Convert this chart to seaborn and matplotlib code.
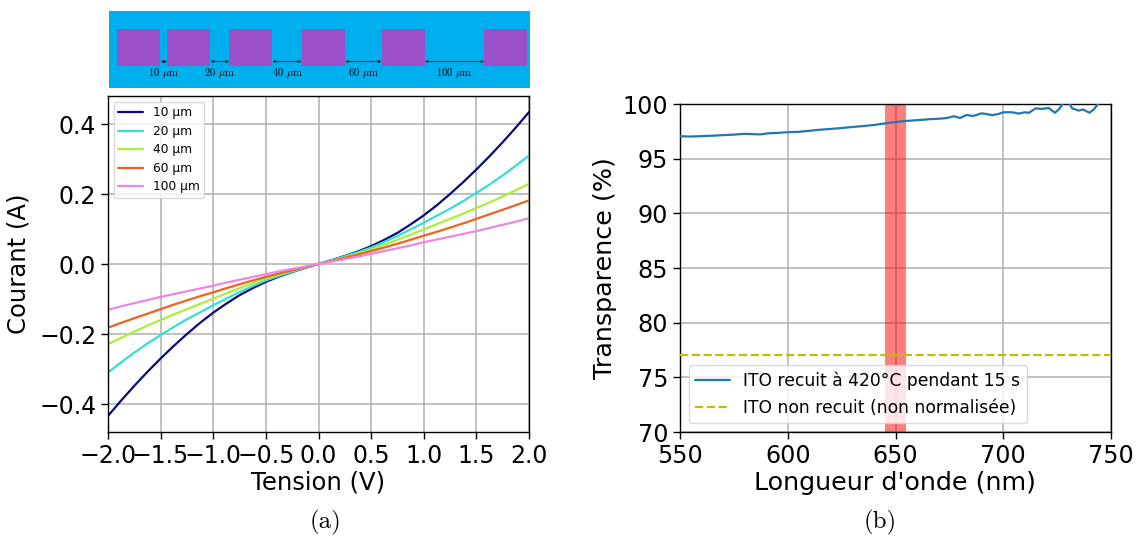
import numpy as np
import pandas as pd
import matplotlib
matplotlib.use("Agg")
import matplotlib.pyplot as plt
import seaborn as sns
from matplotlib.patches import Rectangle

# ---------------- data ----------------
voltage = [-2.0, -1.875, -1.75, -1.625, -1.5, -1.375, -1.25, -1.125, -1.0,
           -0.875, -0.75, -0.625, -0.5, -0.375, -0.25, -0.125, 0.0,
           0.125, 0.25, 0.375, 0.5, 0.625, 0.75, 0.875, 1.0,
           1.125, 1.25, 1.375, 1.5, 1.625, 1.75, 1.875, 2.0]
i_10 = [-0.434, -0.390, -0.348, -0.308, -0.270, -0.234, -0.200, -0.168, -0.139,
        -0.113, -0.089, -0.069, -0.051, -0.036, -0.023, -0.011, 0.0,
        0.011, 0.023, 0.036, 0.051, 0.069, 0.089, 0.113, 0.139,
        0.168, 0.200, 0.234, 0.270, 0.308, 0.348, 0.390, 0.434]
i_20 = [-0.310, -0.281, -0.253, -0.227, -0.203, -0.180, -0.158, -0.138, -0.118,
        -0.099, -0.080, -0.063, -0.047, -0.034, -0.022, -0.011, 0.0,
        0.011, 0.022, 0.034, 0.047, 0.063, 0.080, 0.099, 0.118,
        0.138, 0.158, 0.180, 0.203, 0.227, 0.253, 0.281, 0.310]
i_40 = [-0.229, -0.211, -0.193, -0.176, -0.160, -0.144, -0.129, -0.114, -0.099,
        -0.084, -0.069, -0.055, -0.041, -0.030, -0.019, -0.009, 0.0,
        0.009, 0.019, 0.030, 0.041, 0.055, 0.069, 0.084, 0.099,
        0.114, 0.129, 0.144, 0.160, 0.176, 0.193, 0.211, 0.229]
i_60 = [-0.182, -0.168, -0.155, -0.142, -0.129, -0.116, -0.104, -0.092, -0.081,
        -0.069, -0.058, -0.047, -0.037, -0.027, -0.018, -0.009, 0.0,
        0.009, 0.018, 0.027, 0.037, 0.047, 0.058, 0.069, 0.081,
        0.092, 0.104, 0.116, 0.129, 0.142, 0.155, 0.168, 0.182]
i_100 = [-0.131, -0.121, -0.112, -0.103, -0.094, -0.086, -0.078, -0.070, -0.062,
         -0.053, -0.045, -0.037, -0.029, -0.021, -0.014, -0.007, 0.0,
         0.007, 0.014, 0.021, 0.029, 0.037, 0.045, 0.053, 0.062,
         0.070, 0.078, 0.086, 0.094, 0.103, 0.112, 0.121, 0.131]
gap_labels = ["10 µm", "20 µm", "40 µm", "60 µm", "100 µm"]
gap_values = [10, 20, 40, 60, 100]
curve_colors = ["#0a0a7a", "#33e0d2", "#a8f03a", "#f2601e", "#ea86e6"]

wavelength = [550, 555, 560, 565, 570, 575, 580, 583, 587, 591, 595, 600, 605,
              610, 615, 620, 625, 630, 635, 640, 645, 650, 655, 660, 665, 670,
              674, 677, 680, 683, 686, 690, 693, 695, 698, 700, 703, 705, 707,
              710, 712, 715, 718, 721, 724, 726, 728, 730, 732, 735, 737, 740,
              742, 744, 746, 748]
transparence = [97.05, 97.02, 97.06, 97.10, 97.15, 97.20, 97.27, 97.25, 97.22,
                97.32, 97.35, 97.42, 97.45, 97.55, 97.65, 97.72, 97.80, 97.90,
                97.98, 98.08, 98.22, 98.35, 98.45, 98.52, 98.60, 98.65, 98.72,
                98.88, 98.72, 99.00, 98.90, 99.15, 99.05, 98.98, 99.10, 99.24,
                99.25, 99.22, 99.12, 99.24, 99.20, 99.60, 99.55, 99.64, 99.20,
                99.55, 100.15, 100.30, 99.60, 99.40, 99.50, 99.20, 99.50, 100.0,
                100.4, 100.9]
non_recuit = 77.0
band = (645, 655)
label_recuit = "ITO recuit à 420°C pendant 15 s"
label_non = "ITO non recuit (non normalisée)"

# ---------------- style ----------------
sns.set_style("ticks", {"axes.grid": True, "grid.color": "#b0b0b0",
                        "axes.edgecolor": "black", "xtick.color": "black",
                        "ytick.color": "black", "axes.labelcolor": "black",
                        "text.color": "black"})
plt.rcParams["font.family"] = ["DejaVu Sans"]
plt.rcParams["mathtext.fontset"] = "cm"
plt.rcParams["axes.linewidth"] = 1.0

fig = plt.figure(figsize=(11.38, 5.40), dpi=100)

# ---------------- panel (a) ----------------
ax1 = fig.add_axes([108/1138, 108/540, 421/1138, 336/540])
rows = []
for lab, arr in zip(gap_labels, [i_10, i_20, i_40, i_60, i_100]):
    for v, c in zip(voltage, arr):
        rows.append({"Tension": v, "Courant": c, "Gap": lab})
df = pd.DataFrame(rows)
sns.lineplot(data=df, x="Tension", y="Courant", hue="Gap", hue_order=gap_labels,
             palette=curve_colors, linewidth=1.6, ax=ax1)
ax1.set_xlim(-2.0, 2.0)
ax1.set_ylim(-0.48, 0.48)
ax1.set_xticks(np.arange(-2.0, 2.01, 0.5))
ax1.set_yticks([-0.4, -0.2, 0.0, 0.2, 0.4])
ax1.set_xlabel("Tension (V)", fontsize=17.5, labelpad=2)
ax1.set_ylabel("Courant (A)", fontsize=17.5, labelpad=6)
ax1.tick_params(labelsize=17, length=5, width=1)
ax1.grid(True, color="#b0b0b0", linewidth=1.1)
h, l = ax1.get_legend_handles_labels()
ax1.legend(h, l, loc="upper left", fontsize=8.8, frameon=True, framealpha=0.8,
           edgecolor="#d0d0d0", handlelength=2.0, labelspacing=0.45,
           borderaxespad=0.45)

# ---------------- panel (b) ----------------
ax2 = fig.add_axes([680/1138, 108/540, 431/1138, 328/540])
ax2.axvspan(band[0], band[1], color="red", alpha=0.5, lw=0, zorder=1)
sns.lineplot(x=wavelength, y=transparence, color="#1f77b4", linewidth=1.6,
             label=label_recuit, ax=ax2, zorder=3)
ax2.axhline(non_recuit, color="#bfbf00", linestyle="--", linewidth=1.6,
            label=label_non, zorder=3)
ax2.set_xlim(550, 750)
ax2.set_ylim(70, 100)
ax2.set_xticks([550, 600, 650, 700, 750])
ax2.set_yticks([70, 75, 80, 85, 90, 95, 100])
ax2.set_xlabel("Longueur d'onde (nm)", fontsize=18.3, labelpad=2)
ax2.set_ylabel("Transparence (%)", fontsize=18.3, labelpad=4)
ax2.tick_params(labelsize=17.2, length=5, width=1)
ax2.grid(True, color="#b0b0b0", linewidth=1.1)
ax2.legend(loc="lower left", fontsize=12.3, frameon=True, framealpha=0.8,
           edgecolor="#d0d0d0", handlelength=2.0)

# ---------------- illustration above (a) ----------------
axi = fig.add_axes([109/1138, (540-88)/540, 421/1138, 77/540])
axi.set_xlim(0, 421)
axi.set_ylim(77, 0)
axi.axis("off")
axi.add_patch(Rectangle((0, 0), 421, 77, color="#00b0ee", lw=0))
sq_w, sq_top, sq_h = 43, 18, 36.7
sq_x = [8.3, 58.3, 120.3, 193.0, 272.7, 375.3]
for x0 in sq_x:
    axi.add_patch(Rectangle((x0, sq_top), sq_w, sq_h, color="#9a50c8", lw=0))
for k, g in enumerate(gap_values):
    xa = sq_x[k] + sq_w
    xb = sq_x[k + 1]
    axi.annotate("", xy=(xb, 50.5), xytext=(xa, 50.5),
                 arrowprops=dict(arrowstyle="<|-|>", lw=0.8, color="#2a2a40",
                                 mutation_scale=3.5, shrinkA=0, shrinkB=0))
    axi.text((xa + xb) / 2, 62.5, r"%d $\mu$m" % g, ha="center", va="center",
             fontsize=7.6, family="cmr10")

# ---------------- captions ----------------
fig.text(326/1138, 1 - 522/540, "(a)", ha="center", va="center",
         fontsize=18, family="cmr10")
fig.text(880/1138, 1 - 522/540, "(b)", ha="center", va="center",
         fontsize=18, family="cmr10")

fig.savefig("out.png", dpi=100)
